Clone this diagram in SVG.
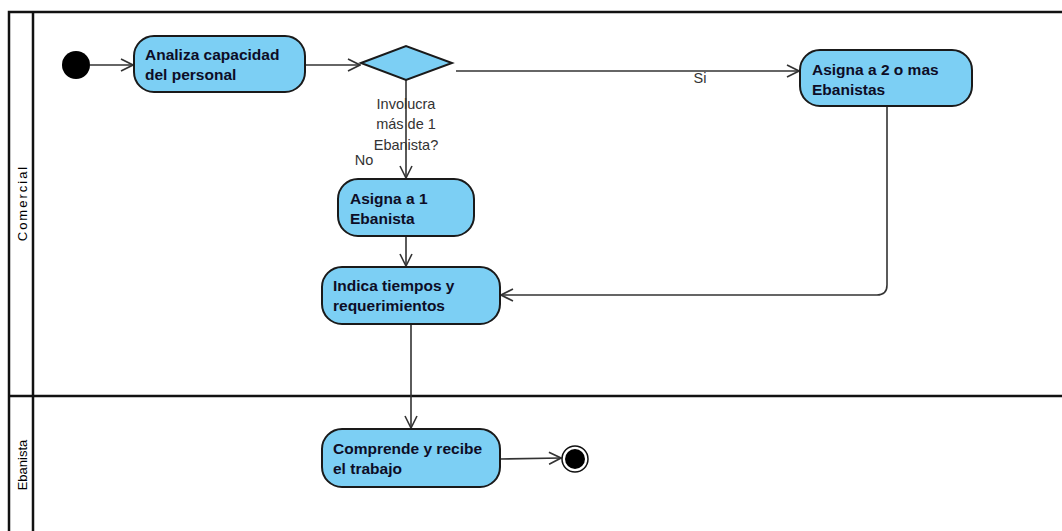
<svg xmlns="http://www.w3.org/2000/svg" width="1062" height="531" viewBox="0 0 1062 531">
<style>
.node{fill:#7ccff4;stroke:#1a1a1a;stroke-width:2}
.nt{font-family:"Liberation Sans",Arial,sans-serif;font-size:15.5px;font-weight:bold;fill:#0d0d26}
.lbl{font-family:"Liberation Sans",Arial,sans-serif;font-size:14.5px;fill:#333}
.lane{font-family:"Liberation Sans",Arial,sans-serif;font-size:13px;fill:#000}
.edge{fill:none;stroke:#333;stroke-width:1.6}
.frame{fill:none;stroke:#111;stroke-width:2.5}
</style>
<defs>
<marker id="arr" viewBox="0 0 14 14" refX="13" refY="7" markerWidth="14" markerHeight="14" markerUnits="userSpaceOnUse" orient="auto">
<path d="M1,1 L13,7 L1,13" fill="none" stroke="#333" stroke-width="1.6"/>
</marker>
</defs>
<rect width="1062" height="531" fill="#fff"/>
<g id="lanes">
<path class="frame" d="M9,540 V12 H1070"/>
<path class="frame" d="M33,12 V540"/>
<path class="frame" d="M9,396 H1070"/>
<text class="lane" transform="translate(27,203) rotate(-90)" text-anchor="middle" letter-spacing="2">Comercial</text>
<text class="lane" transform="translate(27,465) rotate(-90)" text-anchor="middle">Ebanista</text>
</g>
<g id="connectors">
<path class="edge" d="M90,65 H133" marker-end="url(#arr)"/>
<path class="edge" d="M305,65 H360" marker-end="url(#arr)"/>
<path class="edge" d="M456,71 H799" marker-end="url(#arr)"/>
<path class="edge" d="M406,80 V178" marker-end="url(#arr)"/>
<path class="edge" d="M406,236 V266" marker-end="url(#arr)"/>
<path class="edge" d="M887,106 V285 Q887,295 877,295 H501" marker-end="url(#arr)"/>
<path class="edge" d="M411,324 V428" marker-end="url(#arr)"/>
<path class="edge" d="M500,459 L561,458" marker-end="url(#arr)"/>
<text class="lbl" x="700" y="83" text-anchor="middle">Si</text>
<text class="lbl" x="406" y="109" text-anchor="middle">Involucra</text>
<text class="lbl" x="406" y="129" text-anchor="middle">más de 1</text>
<text class="lbl" x="406" y="150" text-anchor="middle">Ebanista?</text>
<text class="lbl" x="364" y="165" text-anchor="middle">No</text>
</g>
<g id="start"><circle cx="76" cy="65" r="14" fill="#000"/></g>
<g id="analiza">
<rect class="node" x="134" y="36" width="171" height="56" rx="20"/>
<text class="nt" x="145" y="60">Analiza capacidad</text>
<text class="nt" x="145" y="80">del personal</text>
</g>
<g id="decision"><polygon class="node" points="361,63 406,46 452,63 406,80"/></g>
<g id="asigna2">
<rect class="node" x="800" y="50" width="172" height="56" rx="20"/>
<text class="nt" x="812" y="75">Asigna a 2 o mas</text>
<text class="nt" x="812" y="95">Ebanistas</text>
</g>
<g id="asigna1">
<rect class="node" x="338" y="179" width="136" height="57" rx="20"/>
<text class="nt" x="350" y="204">Asigna a 1</text>
<text class="nt" x="350" y="224">Ebanista</text>
</g>
<g id="indica">
<rect class="node" x="322" y="267" width="178" height="57" rx="20"/>
<text class="nt" x="333" y="291">Indica tiempos y</text>
<text class="nt" x="333" y="311">requerimientos</text>
</g>
<g id="comprende">
<rect class="node" x="322" y="429" width="178" height="58" rx="20"/>
<text class="nt" x="333" y="454">Comprende y recibe</text>
<text class="nt" x="333" y="474">el trabajo</text>
</g>
<g id="end">
<circle cx="575" cy="459" r="13" fill="#fff" stroke="#111" stroke-width="1.5"/>
<circle cx="575" cy="459" r="10" fill="#000"/>
</g>
</svg>
